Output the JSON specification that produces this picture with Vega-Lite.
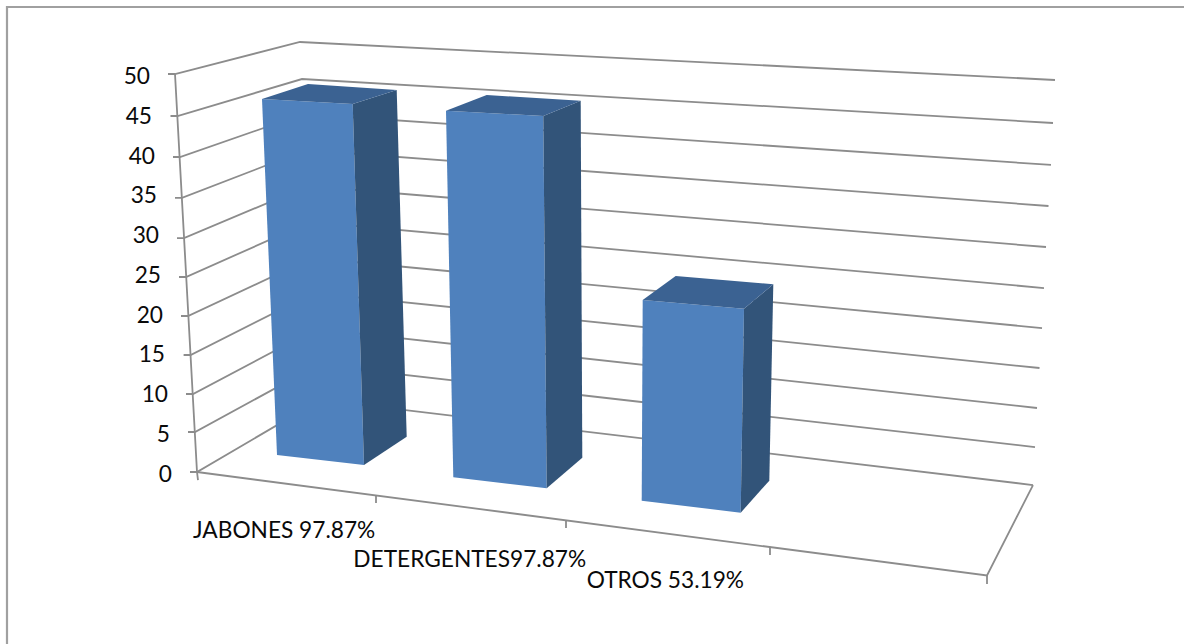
{"$schema":"https://vega.github.io/schema/vega-lite/v6.json","width":1184,"height":644,"padding":0,"autosize":{"type":"none"},"background":"white","config":{"view":{"stroke":null}},
"datasets":{
"lineas":[
{"linea":"g50","orden":1,"x":168,"y":50.06},{"linea":"g50","orden":2,"x":175,"y":50.06},{"linea":"g50","orden":3,"x":300,"y":54.09},{"linea":"g50","orden":4,"x":1055,"y":49.31},
{"linea":"g45","orden":1,"x":170.5,"y":44.78},{"linea":"g45","orden":2,"x":177.5,"y":44.78},{"linea":"g45","orden":3,"x":302,"y":49.43},{"linea":"g45","orden":4,"x":1053,"y":43.9},
{"linea":"g40","orden":1,"x":173,"y":39.62},{"linea":"g40","orden":2,"x":180,"y":39.62},{"linea":"g40","orden":3,"x":304,"y":45.03},{"linea":"g40","orden":4,"x":1051,"y":38.62},
{"linea":"g35","orden":1,"x":175,"y":34.47},{"linea":"g35","orden":2,"x":182,"y":34.47},{"linea":"g35","orden":3,"x":306,"y":40.5},{"linea":"g35","orden":4,"x":1048.5,"y":33.46},
{"linea":"g30","orden":1,"x":177,"y":29.43},{"linea":"g30","orden":2,"x":184,"y":29.43},{"linea":"g30","orden":3,"x":308,"y":35.97},{"linea":"g30","orden":4,"x":1046,"y":28.3},
{"linea":"g25","orden":1,"x":179,"y":24.53},{"linea":"g25","orden":2,"x":186,"y":24.53},{"linea":"g25","orden":3,"x":310,"y":31.45},{"linea":"g25","orden":4,"x":1044,"y":23.14},
{"linea":"g20","orden":1,"x":181,"y":19.62},{"linea":"g20","orden":2,"x":188,"y":19.62},{"linea":"g20","orden":3,"x":312,"y":26.92},{"linea":"g20","orden":4,"x":1042,"y":18.11},
{"linea":"g15","orden":1,"x":183.6,"y":14.72},{"linea":"g15","orden":2,"x":190.6,"y":14.72},{"linea":"g15","orden":3,"x":314,"y":22.52},{"linea":"g15","orden":4,"x":1039.5,"y":13.08},
{"linea":"g10","orden":1,"x":186,"y":9.81},{"linea":"g10","orden":2,"x":193,"y":9.81},{"linea":"g10","orden":3,"x":316,"y":17.99},{"linea":"g10","orden":4,"x":1037,"y":8.05},
{"linea":"g5","orden":1,"x":188,"y":5.03},{"linea":"g5","orden":2,"x":195,"y":5.03},{"linea":"g5","orden":3,"x":318,"y":13.46},{"linea":"g5","orden":4,"x":1035,"y":3.14},
{"linea":"g0","orden":1,"x":190,"y":0},{"linea":"g0","orden":2,"x":197,"y":0},{"linea":"g0","orden":3,"x":320,"y":9.06},{"linea":"g0","orden":4,"x":1033,"y":-1.64},
{"linea":"eje","orden":1,"x":175,"y":50.06},{"linea":"eje","orden":2,"x":197,"y":0},{"linea":"eje","orden":3,"x":198,"y":-1.01},
{"linea":"suelo","orden":1,"x":197,"y":0},{"linea":"suelo","orden":2,"x":987,"y":-13.02},{"linea":"suelo","orden":3,"x":1033,"y":-1.64},
{"linea":"m1","orden":1,"x":376,"y":-2.93},{"linea":"m1","orden":2,"x":376,"y":-3.9},
{"linea":"m2","orden":1,"x":566,"y":-6.05},{"linea":"m2","orden":2,"x":566,"y":-7.04},
{"linea":"m3","orden":1,"x":770,"y":-9.4},{"linea":"m3","orden":2,"x":770,"y":-10.44},
{"linea":"m4","orden":1,"x":987,"y":-13.02},{"linea":"m4","orden":2,"x":987,"y":-14.09}
],
"marco":[{"orden":1,"x":7,"y":-21.635},{"orden":2,"x":7,"y":58.49},{"orden":3,"x":1184,"y":58.49}],
"caras":[
{"barra":"JABONES","cara":"frente","orden":1,"x":262,"y":46.92},{"barra":"JABONES","cara":"frente","orden":2,"x":352.7,"y":46.29},{"barra":"JABONES","cara":"frente","orden":3,"x":364,"y":0.88},{"barra":"JABONES","cara":"frente","orden":4,"x":277,"y":2.14},
{"barra":"JABONES","cara":"lado","orden":1,"x":352.7,"y":46.29},{"barra":"JABONES","cara":"lado","orden":2,"x":396.7,"y":48.05},{"barra":"JABONES","cara":"lado","orden":3,"x":406.7,"y":4.44},{"barra":"JABONES","cara":"lado","orden":4,"x":364,"y":0.88},
{"barra":"JABONES","cara":"tapa","orden":1,"x":262,"y":46.92},{"barra":"JABONES","cara":"tapa","orden":2,"x":308,"y":48.81},{"barra":"JABONES","cara":"tapa","orden":3,"x":396.7,"y":48.05},{"barra":"JABONES","cara":"tapa","orden":4,"x":352.7,"y":46.29},
{"barra":"DETERGENTES","cara":"frente","orden":1,"x":446,"y":45.45},{"barra":"DETERGENTES","cara":"frente","orden":2,"x":543.3,"y":44.78},{"barra":"DETERGENTES","cara":"frente","orden":3,"x":546.7,"y":-2.05},{"barra":"DETERGENTES","cara":"frente","orden":4,"x":453.3,"y":-0.67},
{"barra":"DETERGENTES","cara":"lado","orden":1,"x":543.3,"y":44.78},{"barra":"DETERGENTES","cara":"lado","orden":2,"x":580.7,"y":46.7},{"barra":"DETERGENTES","cara":"lado","orden":3,"x":582.3,"y":1.8},{"barra":"DETERGENTES","cara":"lado","orden":4,"x":546.7,"y":-2.05},
{"barra":"DETERGENTES","cara":"tapa","orden":1,"x":446,"y":45.45},{"barra":"DETERGENTES","cara":"tapa","orden":2,"x":486.7,"y":47.42},{"barra":"DETERGENTES","cara":"tapa","orden":3,"x":580.7,"y":46.7},{"barra":"DETERGENTES","cara":"tapa","orden":4,"x":543.3,"y":44.78},
{"barra":"OTROS","cara":"frente","orden":1,"x":642.7,"y":21.64},{"barra":"OTROS","cara":"frente","orden":2,"x":744,"y":20.54},{"barra":"OTROS","cara":"frente","orden":3,"x":740.7,"y":-5.12},{"barra":"OTROS","cara":"frente","orden":4,"x":641.7,"y":-3.61},
{"barra":"OTROS","cara":"lado","orden":1,"x":744,"y":20.54},{"barra":"OTROS","cara":"lado","orden":2,"x":773.3,"y":23.61},{"barra":"OTROS","cara":"lado","orden":3,"x":769.3,"y":-1.09},{"barra":"OTROS","cara":"lado","orden":4,"x":740.7,"y":-5.12},
{"barra":"OTROS","cara":"tapa","orden":1,"x":642.7,"y":21.64},{"barra":"OTROS","cara":"tapa","orden":2,"x":675.7,"y":24.65},{"barra":"OTROS","cara":"tapa","orden":3,"x":773.3,"y":23.61},{"barra":"OTROS","cara":"tapa","orden":4,"x":744,"y":20.54}
],
"valores":[{"t":"50","x":150,"y":50},{"t":"45","x":152,"y":45},{"t":"40","x":155,"y":40},{"t":"35","x":157,"y":35},{"t":"30","x":159,"y":30},{"t":"25","x":161,"y":25},{"t":"20","x":163,"y":20},{"t":"15","x":165,"y":15},{"t":"10","x":168,"y":10},{"t":"5","x":170,"y":5},{"t":"0","x":172,"y":0}],
"categorias":[{"t":"JABONES 97.87%","x":193,"y":-8.22},{"t":"DETERGENTES97.87%","x":353.3,"y":-11.79},{"t":"OTROS 53.19%","x":586.7,"y":-14.5}]
},
"encoding":{
"x":{"field":"x","type":"quantitative","scale":{"domain":[0,1184],"nice":false,"zero":false},"axis":null},
"y":{"field":"y","type":"quantitative","scale":{"domain":[-21.635,59.371],"nice":false,"zero":false},"axis":null}
},
"layer":[
{"data":{"name":"marco"},"mark":{"type":"line","stroke":"#a0a0a0","strokeWidth":2.2},"encoding":{"order":{"field":"orden"}}},
{"data":{"name":"lineas"},"mark":{"type":"line","stroke":"#8c8c8c","strokeWidth":1.8},"encoding":{"detail":{"field":"linea"},"order":{"field":"orden"}}},
{"data":{"name":"caras"},"mark":{"type":"line","filled":true,"strokeWidth":0},"encoding":{"detail":[{"field":"barra"},{"field":"cara"}],"order":{"field":"orden"},"fill":{"field":"cara","type":"nominal","legend":null,"scale":{"domain":["frente","lado","tapa"],"range":["#4f81bd","#325479","#3b6292"]}}}},
{"data":{"name":"valores"},"mark":{"type":"text","align":"right","baseline":"middle","dy":2.5,"font":"Lato","fontSize":22.7,"fill":"#0a0a0a"},"encoding":{"text":{"field":"t"}}},
{"data":{"name":"categorias"},"mark":{"type":"text","align":"left","baseline":"alphabetic","dy":1,"font":"Lato","fontSize":22.7,"fill":"#0a0a0a"},"encoding":{"text":{"field":"t"}}}
]}
